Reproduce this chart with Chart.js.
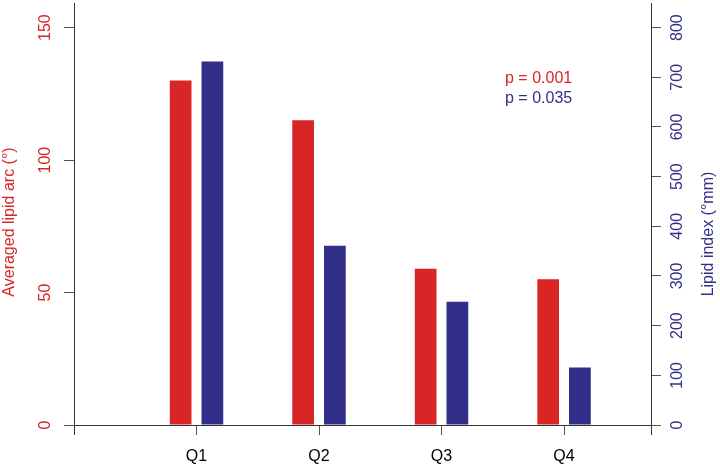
<!DOCTYPE html>
<html>
<head>
<meta charset="utf-8">
<script src="https://cdn.jsdelivr.net/npm/chart.js@4.4.1/dist/chart.umd.min.js"></script>
<style>
  body { margin: 0; background: #ffffff; }
  #wrap { width: 720px; height: 466px; }
</style>
</head>
<body>
<div id="wrap"><canvas id="lipidChart" width="720" height="466"></canvas></div>
<script>
const quarters = ["Q1", "Q2", "Q3", "Q4"];
const lipidArc = [130, 115, 59, 55];        // Averaged lipid arc (°)
const lipidIndex = [732, 361, 248, 116];    // Lipid index (°mm)
const arcTicks = [0, 50, 100, 150];
const indexTicks = [0, 100, 200, 300, 400, 500, 600, 700, 800];
const pLabels = ["p = 0.001", "p = 0.035"];

const RED = "#d92525";
const BLUE = "#312f8a";
const LINE = "#333333";
const TICK = "#555555";

Chart.defaults.font.family = "'Liberation Sans', Arial, Helvetica, sans-serif";
Chart.defaults.font.size = 16;

// axis titles, p-values and the little end ticks of the x axis
const extras = {
  id: "extras",
  afterDraw(chart) {
    const ctx = chart.ctx;
    const area = chart.chartArea;
    ctx.save();
    ctx.strokeStyle = LINE;
    ctx.lineWidth = 1;
    [area.left, area.right].forEach(x => {
      const px = Math.round(x - 0.5) + 0.5;
      ctx.beginPath();
      ctx.moveTo(px, area.bottom);
      ctx.lineTo(px, area.bottom + 10);
      ctx.stroke();
    });

    ctx.font = "16px 'Liberation Sans', Arial, sans-serif";
    ctx.textBaseline = "middle";
    ctx.textAlign = "left";
    ctx.fillStyle = RED;
    ctx.fillText(pLabels[0], 505, 79);
    ctx.fillStyle = BLUE;
    ctx.fillText(pLabels[1], 505, 99);

    ctx.textAlign = "center";
    ctx.save();
    ctx.translate(10, 222);
    ctx.rotate(-Math.PI / 2);
    ctx.fillStyle = RED;
    ctx.fillText("Averaged lipid arc (°)", 0, 0);
    ctx.restore();

    ctx.save();
    ctx.translate(709, 234);
    ctx.rotate(-Math.PI / 2);
    ctx.fillStyle = BLUE;
    ctx.fillText("Lipid index (°mm)", 0, 0);
    ctx.restore();
    ctx.restore();
  }
};

const ctx = document.getElementById("lipidChart").getContext("2d");
new Chart(ctx, {
  type: "bar",
  data: {
    datasets: [
      {
        label: "Averaged lipid arc",
        data: lipidArc.map((v, i) => ({ x: i + 1, y: v })),
        backgroundColor: RED,
        borderWidth: 0,
        yAxisID: "y",
        categoryPercentage: 0.518,
        barPercentage: 0.685
      },
      {
        label: "Lipid index",
        data: lipidIndex.map((v, i) => ({ x: i + 1, y: v })),
        backgroundColor: BLUE,
        borderWidth: 0,
        yAxisID: "y1",
        categoryPercentage: 0.518,
        barPercentage: 0.685
      }
    ]
  },
  options: {
    responsive: false,
    animation: false,
    layout: { padding: { top: 3, left: 0, right: 0, bottom: 0 } },
    plugins: {
      legend: { display: false },
      tooltip: { enabled: false }
    },
    scales: {
      x: {
        type: "linear",
        min: 0,
        max: 4.71,
        offset: false,
        grid: { offset: false, drawOnChartArea: false, tickLength: 10, color: TICK },
        border: { color: LINE, width: 1 },
        afterBuildTicks: s => { s.ticks = quarters.map((q, i) => ({ value: i + 1 })); },
        ticks: {
          color: "#000000",
          padding: 12,
          maxRotation: 0,
          callback: v => quarters[v - 1]
        },
        afterFit: s => { s.height = 41; s.paddingLeft = 0; s.paddingRight = 0; }
      },
      y: {
        position: "left",
        min: 0,
        max: 159.3,
        grid: { drawOnChartArea: false, tickLength: 10, color: TICK },
        border: { color: LINE, width: 1 },
        afterBuildTicks: s => { s.ticks = arcTicks.map(v => ({ value: v })); },
        ticks: {
          color: RED,
          padding: 5,
          minRotation: 90,
          maxRotation: 90,
          crossAlign: "center"
        },
        afterFit: s => { s.width = 74; s.paddingTop = 0; s.paddingBottom = 0; }
      },
      y1: {
        position: "right",
        min: 0,
        max: 849.6,
        grid: { drawOnChartArea: false, tickLength: 10, color: TICK },
        border: { color: LINE, width: 1 },
        afterBuildTicks: s => { s.ticks = indexTicks.map(v => ({ value: v })); },
        ticks: {
          color: BLUE,
          padding: 3,
          minRotation: 90,
          maxRotation: 90,
          crossAlign: "center"
        },
        afterFit: s => { s.width = 69; s.paddingTop = 0; s.paddingBottom = 0; }
      }
    }
  },
  plugins: [extras]
});
</script>
</body>
</html>
